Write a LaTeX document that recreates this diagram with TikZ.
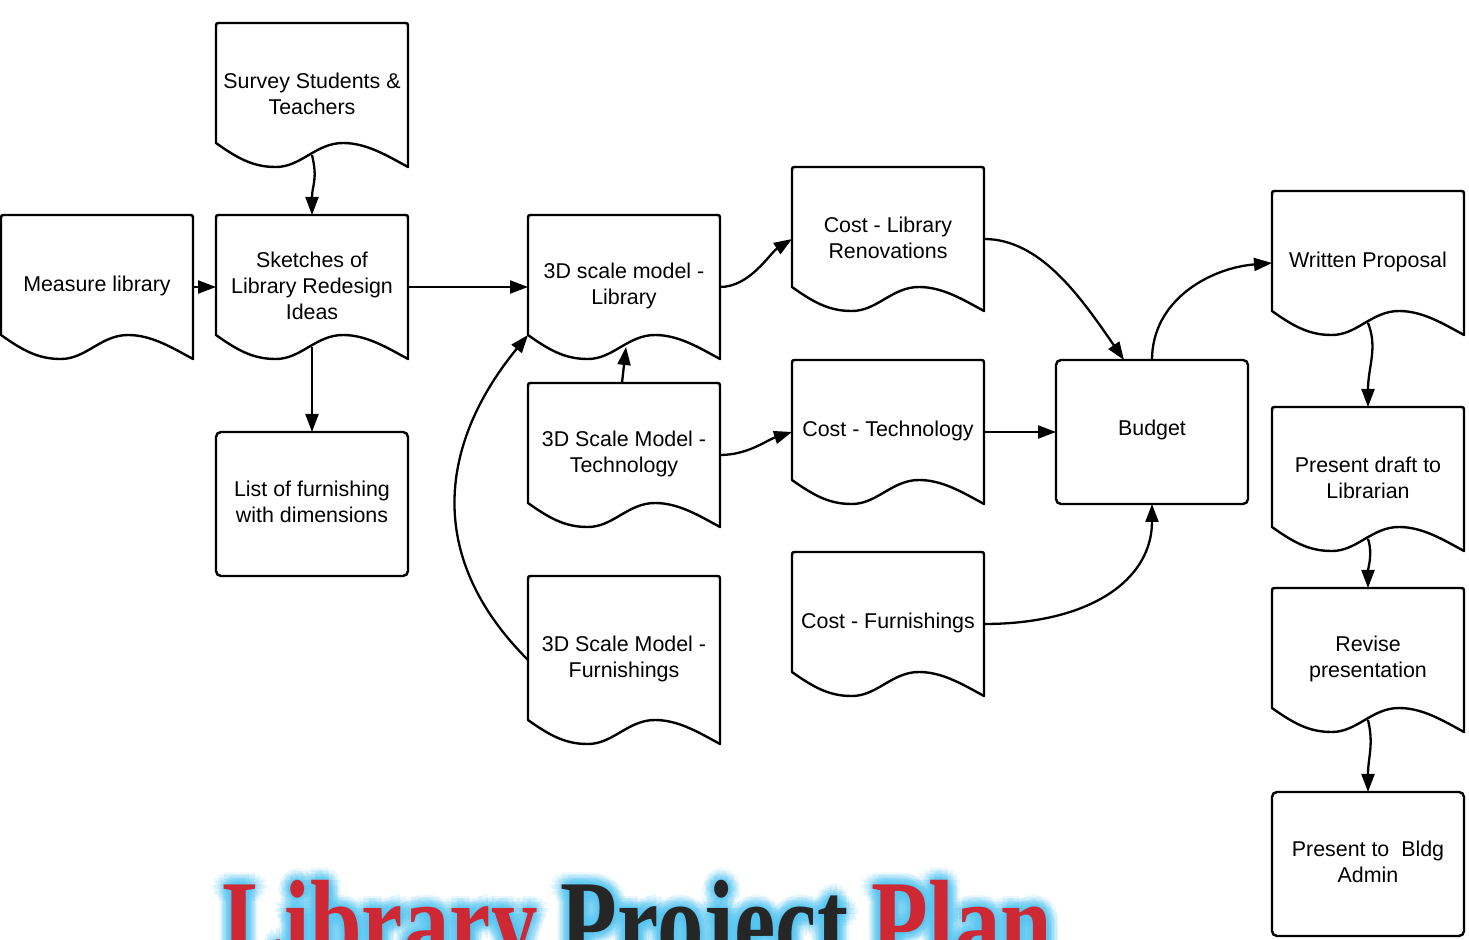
\documentclass[tikz,border=0pt]{standalone}
\usepackage{fontspec}
\usepackage{graphicx}
\setmainfont{Liberation Sans}
\newfontfamily\titlefont{Liberation Serif}
\usetikzlibrary{arrows.meta}
\definecolor{titlered}{RGB}{205,40,52}
\definecolor{titleblack}{RGB}{38,38,38}
\definecolor{glowcyan}{RGB}{80,195,240}
\tikzset{
  shapeline/.style={line width=1.2pt, line join=round},
  conn/.style={line width=1.15pt, -{Triangle[length=9pt,width=6.5pt]}},
  anchorbox/.style={rectangle, inner sep=0pt, outer sep=0pt, minimum width=96pt, anchor=north west},
  lbl/.style={align=center, font=\fontsize{10.7}{13}\selectfont, inner sep=0pt},
  titlestyle/.style={anchor=base west, inner sep=0pt, font=\titlefont\bfseries\fontsize{60}{60}\selectfont},
}
\newcommand\docshape[5]{%
  \node[anchorbox, minimum height=#4*0.5pt] (#1) at (#2,#3) {};
  \begin{scope}[shift={(#2,#3)}]
    \draw[shapeline] (192,#4) -- (192,5) .. controls (192,0) .. (187,0) -- (5,0)
      .. controls (0,0) .. (0,5) -- (0,#4-24)
      .. controls (25,#4-6) and (40,#4) .. (60,#4)
      .. controls (85,#4) and (100,#4-24) .. (127,#4-24)
      .. controls (150,#4-24) and (170,#4-12) .. (192,#4) -- cycle;
    \coordinate (#1-wave) at (96,#4-12);
    \coordinate (#1-bl) at (0,#4-24);
    \node[lbl] (#1-text) at (96,#4/2-1) {#5};
  \end{scope}}
\newcommand\rectshape[4]{%
  \node[anchorbox, minimum height=72pt, draw, line width=1.2pt, rounded corners=2.5pt] (#1) at (#2,#3) {};
  \node[lbl] (#1-text) at ([yshift=1pt]#1.center) {#4};}
\newcommand\titlestr[3]{{\color{#1}Library} {\color{#2}Project} {\color{#3}Plan}}
\begin{document}
\begin{tikzpicture}[x=0.5pt, y=-0.5pt]
\useasboundingbox (0,0) rectangle (1469,940);
% title
\begin{scope}
  \clip (0,0) rectangle (1469,940);
  \foreach \r in {3,6,9,12}{
    \foreach \a in {0,30,...,330}{
      \node[titlestyle, opacity=0.12, shift={(\a:\r)}] (glow-\a-\r) at (222,964)
        {\scalebox{0.775}[1]{\titlestr{glowcyan}{glowcyan}{glowcyan}}};
    }}
  \node[titlestyle] (title) at (222,964) {\scalebox{0.775}[1]{\titlestr{titlered}{titleblack}{titlered}}};
\end{scope}
% shapes
\docshape{survey}{216}{23}{144}{Survey Students \&\\Teachers}
\docshape{measure}{1}{215}{144}{Measure library}
\docshape{sketch}{216}{215}{144}{Sketches of\\Library Redesign\\Ideas}
\rectshape{list}{216}{432}{List of furnishing\\with dimensions}
\docshape{lib}{528}{215}{144}{3D scale model -\\Library}
\docshape{tech}{528}{383}{144}{3D Scale Model -\\Technology}
\docshape{furn}{528}{576}{168}{3D Scale Model -\\Furnishings}
\docshape{costlib}{792}{167}{144}{Cost - Library\\Renovations}
\docshape{costtech}{792}{360}{144}{Cost - Technology}
\docshape{costfurn}{792}{552}{144}{Cost - Furnishings}
\rectshape{budget}{1056}{360}{Budget}
\docshape{written}{1272}{191}{144}{Written Proposal}
\docshape{draft}{1272}{407}{144}{Present draft to\\Librarian}
\docshape{revise}{1272}{588}{144}{Revise\\presentation}
\rectshape{bldg}{1272}{792}{Present to\ \ Bldg\\Admin}
% connectors
\draw[conn] (survey-wave) .. controls +(6,25) and +(0,-30) .. (sketch.north);
\draw[conn] (measure.east) -- (sketch.west);
\draw[conn] (sketch.east) -- (lib.west);
\draw[conn] (sketch-wave) -- (list.north);
\draw[conn] (lib.east) .. controls +(30,0) and +(-22,14) .. (costlib.west);
\draw[conn] ([xshift=-1pt]tech.north) -- ([xshift=1pt]lib-wave);
\draw[conn] (tech.east) .. controls +(28,0) and +(-25,8) .. (costtech.west);
\draw[conn] (furn.west) .. controls +(-110,-110) and +(-82,100) .. (lib-bl);
\draw[conn] (costlib.east) .. controls +(56,0) and +(-44,-64) .. ([xshift=-14pt]budget.north);
\draw[conn] (costtech.east) -- (budget.west);
\draw[conn] (costfurn.east) .. controls +(106,0) and +(0,76) .. (budget.south);
\draw[conn] (budget.north) .. controls +(0,-60) and +(-62,5) .. (written.west);
\draw[conn] (written-wave) .. controls +(10,25) and +(0,-40) .. (draft.north);
\draw[conn] (draft-wave) .. controls +(5,15) and +(0,-20) .. (revise.north);
\draw[conn] (revise-wave) .. controls +(6,25) and +(0,-35) .. (bldg.north);
\end{tikzpicture}
\end{document}
